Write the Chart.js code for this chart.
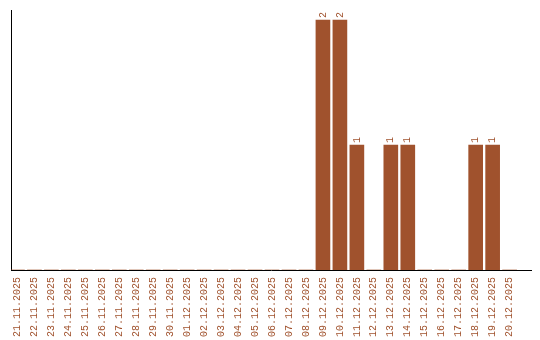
<!DOCTYPE html>
<html><head><meta charset="utf-8">
<script src="https://cdn.jsdelivr.net/npm/chart.js@4"></script>
<style>html,body{margin:0;padding:0;background:#fff;}canvas{display:block;}</style>
</head><body>
<canvas id="c" width="540" height="340"></canvas>
<script>
const categories = ["21.11.2025","22.11.2025","23.11.2025","24.11.2025","25.11.2025","26.11.2025","27.11.2025","28.11.2025","29.11.2025","30.11.2025","01.12.2025","02.12.2025","03.12.2025","04.12.2025","05.12.2025","06.12.2025","07.12.2025","08.12.2025","09.12.2025","10.12.2025","11.12.2025","12.12.2025","13.12.2025","14.12.2025","15.12.2025","16.12.2025","17.12.2025","18.12.2025","19.12.2025","20.12.2025"];
const counts = [0,0,0,0,0,0,0,0,0,0,0,0,0,0,0,0,0,0,2,2,1,0,1,1,0,0,0,1,1,0];
const COLOR = "#a0522d";
const FONT = "Liberation Mono";

const points = categories.map((c, i) => ({ x: i, y: counts[i] }));

const valueLabels = {
  id: "valueLabels",
  afterDatasetsDraw(chart) {
    const ctx = chart.ctx;
    const meta = chart.getDatasetMeta(0);
    ctx.save();
    ctx.fillStyle = COLOR;
    ctx.font = "10px '" + FONT + "'";
    ctx.textAlign = "left";
    ctx.textBaseline = "middle";
    meta.data.forEach((bar, i) => {
      const v = counts[i];
      if (!v) return;
      ctx.save();
      ctx.translate(bar.x, bar.y - 2);
      ctx.rotate(-Math.PI / 2);
      ctx.fillText(String(v), 0, 0);
      ctx.restore();
    });
    ctx.restore();
  }
};

new Chart(document.getElementById("c"), {
  type: "bar",
  data: { datasets: [{ data: points, backgroundColor: COLOR, barThickness: 14 }] },
  options: {
    responsive: false,
    animation: false,
    layout: { padding: { left: 10, right: 9, top: 10, bottom: 0 } },
    plugins: { legend: { display: false }, tooltip: { enabled: false } },
    scales: {
      x: {
        type: "linear",
        offset: false,
        min: -0.38, max: 30.26,
        afterBuildTicks(scale) { scale.ticks = categories.map((c, i) => ({ value: i })); },
        afterFit(scale) { scale.height = 70; },
        grid: { display: false, drawTicks: false },
        border: { display: true, color: "#000", width: 1 },
        ticks: { color: COLOR, font: { family: FONT, size: 10 }, minRotation: 90, maxRotation: 90, autoSkip: false, padding: 7,
          callback: (v) => categories[v] }
      },
      y: {
        min: 0, max: 2.08,
        afterFit(scale) { scale.width = 1; },
        grid: { display: false, drawTicks: false },
        border: { display: true, color: "#000", width: 1 },
        ticks: { display: false }
      }
    }
  },
  plugins: [valueLabels]
});
</script>
</body></html>
